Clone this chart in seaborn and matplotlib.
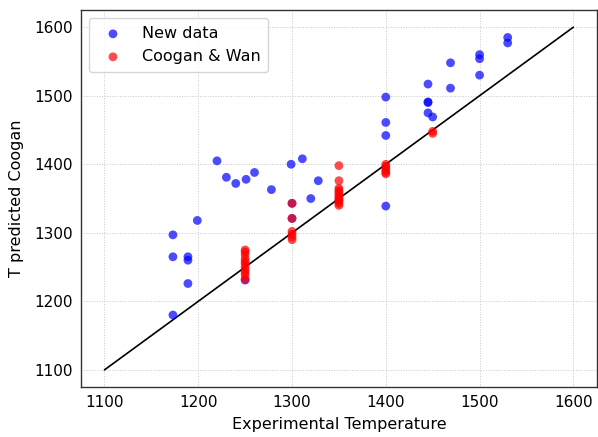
import numpy as np
import pandas as pd
import seaborn as sns
import matplotlib.pyplot as plt

# new data (experimental T, predicted T)
new_exp = [1173, 1173, 1173, 1189, 1189, 1189, 1199, 1220, 1230, 1240, 1251, 1260,
           1278, 1299, 1311, 1320, 1328, 1250, 1300, 1300,
           1400, 1400, 1400, 1400, 1445, 1445, 1445, 1445, 1450,
           1469, 1469, 1500, 1500, 1500, 1530, 1530]
new_pred = [1297, 1265, 1180, 1265, 1260, 1226, 1318, 1405, 1381, 1372, 1378, 1388,
            1363, 1400, 1408, 1350, 1376, 1231, 1343, 1321,
            1498, 1461, 1442, 1339, 1517, 1491, 1490, 1475, 1469,
            1548, 1511, 1560, 1554, 1530, 1585, 1577]

# Coogan & Wan
cw_exp = [1250] * 11 + [1300] * 6 + [1350] * 12 + [1400] * 6 + [1450] * 2
cw_pred = [1275, 1272, 1268, 1262, 1258, 1255, 1250, 1246, 1242, 1238, 1232,
           1343, 1321, 1302, 1298, 1294, 1290,
           1398, 1376, 1365, 1362, 1359, 1356, 1353, 1350, 1348, 1346, 1343, 1340,
           1400, 1397, 1394, 1391, 1388, 1386,
           1448, 1445]

line_x = [1100, 1600]

sns.set_style("white", {"text.color": "black", "axes.labelcolor": "black",
                        "xtick.color": "black", "ytick.color": "black"})
fig, ax = plt.subplots(figsize=(5.98, 4.37), dpi=100)
fig.subplots_adjust(left=0.1355, right=0.998, top=0.977, bottom=0.1144)

sns.lineplot(x=line_x, y=line_x, color="black", lw=1.2, ax=ax, zorder=1)
sns.scatterplot(x=new_exp, y=new_pred, color="blue", alpha=0.7, s=40,
                edgecolor="none", label="New data", ax=ax, zorder=2)
sns.scatterplot(x=cw_exp, y=cw_pred, color="red", alpha=0.7, s=40,
                edgecolor="none", label="Coogan & Wan", ax=ax, zorder=3)

ax.set_xlim(1075, 1625)
ax.set_ylim(1075, 1625)
ax.set_xticks([1100, 1200, 1300, 1400, 1500, 1600])
ax.set_yticks([1100, 1200, 1300, 1400, 1500, 1600])
ax.grid(True, linestyle=":", color="#c8c8c8", linewidth=0.7)
ax.tick_params(direction="in", length=4, labelsize=11, color="#444444", pad=6)
for sp in ax.spines.values():
    sp.set_color("#333333")
    sp.set_linewidth(1)
ax.set_xlabel("Experimental Temperature", fontsize=11.5, labelpad=5)
ax.set_ylabel("T predicted Coogan", fontsize=11.5, labelpad=7)
ax.legend(loc="upper left", fontsize=11.5, frameon=True, borderpad=0.5)

fig.savefig("out.png", dpi=100)
